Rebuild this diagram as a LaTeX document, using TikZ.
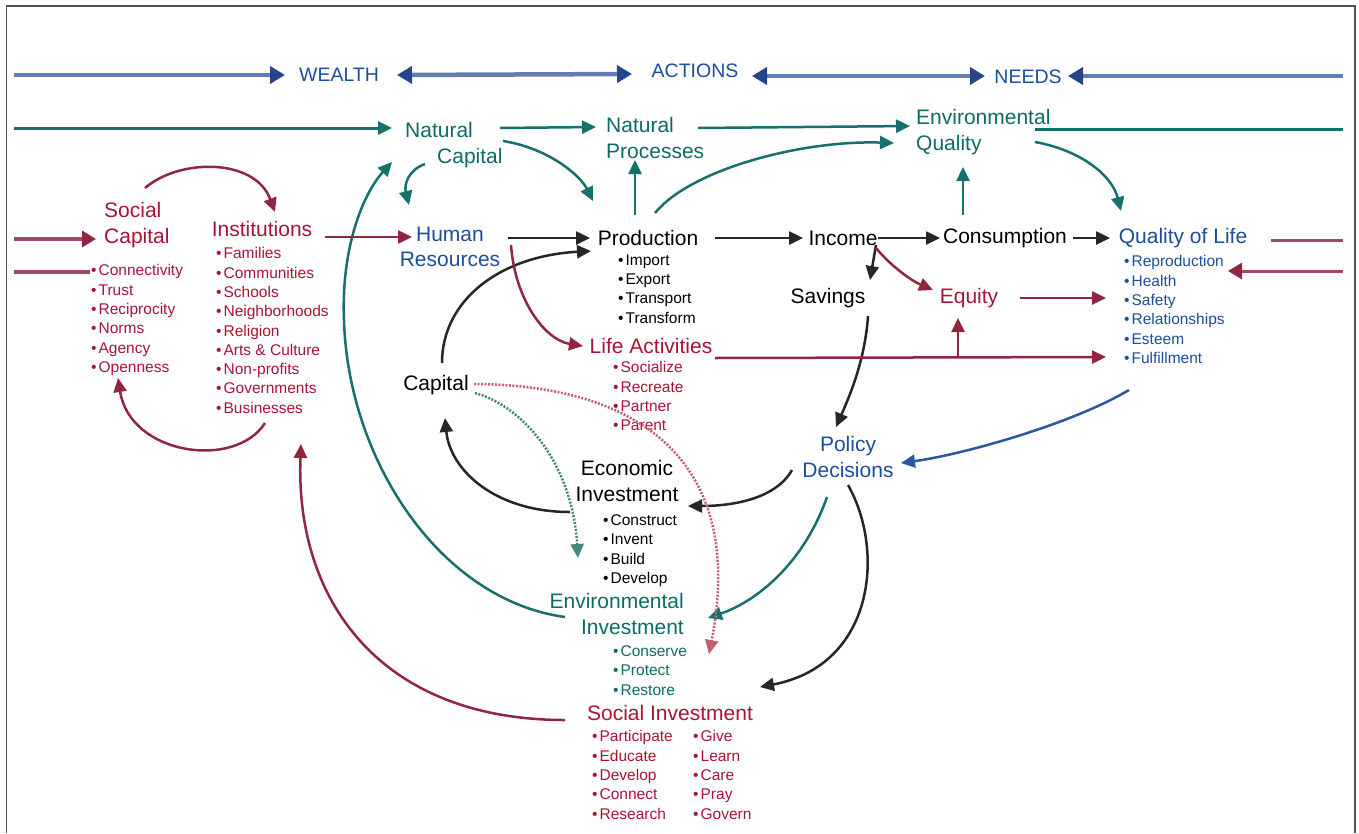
\documentclass[tikz,border=0pt]{standalone}
\usepackage{fontspec}
\setmainfont{Liberation Sans}
\usetikzlibrary{arrows.meta,calc}
\definecolor{tblue}{RGB}{28,78,158}
\definecolor{tteal}{RGB}{12,108,102}
\definecolor{tred}{RGB}{170,20,52}
\definecolor{ablk}{RGB}{38,38,38}
\definecolor{ateal}{RGB}{22,112,108}
\definecolor{ared}{RGB}{145,38,64}
\definecolor{ablue}{RGB}{45,85,165}
\definecolor{topL}{RGB}{100,125,178}
\definecolor{topH}{RGB}{38,68,140}
\definecolor{redL}{RGB}{160,75,98}
\definecolor{dteal}{RGB}{70,132,130}
\definecolor{dred}{RGB}{195,95,115}
\definecolor{framec}{RGB}{85,85,85}
\newcommand{\bul}{\textbullet\kern2pt}
\begin{document}
\begin{tikzpicture}[x=1pt,y=-1pt,
  lbl/.style={inner sep=0pt,font=\fontsize{21}{25.5}\selectfont},
  toplbl/.style={inner sep=0pt,font=\fontsize{19.5}{23}\selectfont,text=tblue},
  blist/.style={inner sep=0pt,anchor=north west,align=left,font=\fontsize{15.5}{19.3}\selectfont},
  conn/.style={line width=2.5pt,-{Triangle[length=14pt,width=13pt]}},
  kcon/.style={conn,draw=ablk},
  tcon/.style={conn,draw=ateal},
  rcon/.style={conn,draw=ared},
  bcon/.style={conn,draw=ablue},
  topa/.style={line width=4.5pt,draw=topL,-{Triangle[length=15pt,width=17pt,color=topH]}},
  topb/.style={line width=4.5pt,draw=topL,{Triangle[length=15pt,width=17pt,color=topH]}-{Triangle[length=15pt,width=17pt,color=topH]}},
  reda/.style={line width=4.5pt,draw=redL,-{Triangle[length=14pt,width=16pt,color=ared]}},
  dotteal/.style={conn,draw=dteal,dash pattern=on 2pt off 1.5pt},
  dotred/.style={conn,draw=dred,dash pattern=on 2pt off 1.5pt}
]
\useasboundingbox (0,0) rectangle (1359,833);
\fill[white] (0,0) rectangle (1359,833);
\draw[framec,line width=1.5pt] (6.5,833) -- (6.5,6) -- (1355,6) -- (1355,833);

% free ends
\coordinate (wl) at (14,75);
\coordinate (wr) at (1343,76);
\coordinate (tl) at (14,128);
\coordinate (er) at (1343,129);
\coordinate (sl1) at (14,239);
\coordinate (sl2) at (14,272);
\coordinate (qr1) at (1343,240);
\coordinate (qr2) at (1343,271);

% top labels
\node[toplbl] (wealth) at (339,75) {WEALTH};
\node[toplbl] (actions) at (695,71) {ACTIONS};
\node[toplbl] (needs) at (1028,77) {NEEDS};

% main labels
\node[lbl,text=tteal,align=left,anchor=west] (natcap) at (405,145) {Natural\\\hspace*{32pt}Capital};
\node[lbl,text=tteal,align=left,anchor=west] (natproc) at (606,138) {Natural\\Processes};
\node[lbl,text=tteal,align=left,anchor=west] (envq) at (916,132) {Environmental\\Quality};
\node[lbl,text=tred,align=left,anchor=west] (soccap) at (104,225) {Social\\Capital};
\node[lbl,text=tred] (inst) at (262,229) {Institutions};
\node[lbl,text=tblue,align=center] (human) at (450,247) {Human\\Resources};
\node[lbl] (prod) at (648,238) {Production};
\node[lbl] (income) at (843,238) {Income};
\node[lbl] (cons) at (1005,238) {Consumption};
\node[lbl,text=tblue] (qol) at (1183,238) {Quality of Life};
\node[lbl] (savings) at (828,298) {Savings};
\node[lbl,text=tred] (equity) at (969,298) {Equity};
\node[lbl,text=tred] (lifeact) at (651,346) {Life Activities};
\node[lbl] (capital) at (436,385) {Capital};
\node[lbl,text=tblue,align=center] (policy) at (848,457) {Policy\\Decisions};
\node[lbl,align=center] (econ) at (627,481) {Economic\\Investment};
\node[lbl,text=tteal,align=right,anchor=east] (envinv) at (684,614) {Environmental\\Investment};
\node[lbl,text=tred] (socinv) at (670,713) {Social Investment};

% bullet lists
\node[blist,text=tred] (scL) at (91,264.4) {\bul Connectivity\\\bul Trust\\\bul Reciprocity\\\bul Norms\\\bul Agency\\\bul Openness};
\node[blist,text=tred] (instL) at (216,247.4) {\bul Families\\\bul Communities\\\bul Schools\\\bul Neighborhoods\\\bul Religion\\\bul Arts \& Culture\\\bul Non-profits\\\bul Governments\\\bul Businesses};
\node[blist] (prodL) at (618,254.4) {\bul Import\\\bul Export\\\bul Transport\\\bul Transform};
\node[blist,text=tblue] (qolL) at (1124,255.4) {\bul Reproduction\\\bul Health\\\bul Safety\\\bul Relationships\\\bul Esteem\\\bul Fulfillment};
\node[blist,text=tred] (lifeL) at (613,361.4) {\bul Socialize\\\bul Recreate\\\bul Partner\\\bul Parent};
\node[blist] (econL) at (603,514.4) {\bul Construct\\\bul Invent\\\bul Build\\\bul Develop};
\node[blist,text=tteal] (envL) at (613,645.4) {\bul Conserve\\\bul Protect\\\bul Restore};
\node[blist,text=tred] (siL1) at (592,730.4) {\bul Participate\\\bul Educate\\\bul Develop\\\bul Connect\\\bul Research};
\node[blist,text=tred] (siL2) at (693,730.4) {\bul Give\\\bul Learn\\\bul Care\\\bul Pray\\\bul Govern};

% top band arrows
\draw[topa] (wl) -- ($(wealth)+(-54,0)$);
\draw[topb] ($(wealth)+(58,0)$) -- ($(actions)+(-63,3)$);
\draw[topb] ($(actions)+(57,5)$) -- ($(needs)+(-43,-1)$);
\draw[topa] (wr) -- ($(needs)+(40,-1)$);

% teal row
\draw[tcon,line width=3pt] (tl) -- ($(natcap.west)+(-13,-17)$);
\draw[tcon] ($(natcap.west)+(95,-17)$) -- ($(natproc.west)+(-10,-11)$);
\draw[tcon] ($(natproc.west)+(92,-10)$) -- ($(envq.west)+(-6,-6)$);
\draw[ateal,line width=3pt] ($(envq.west)+(119,-3)$) -- (er);
\draw[tcon] ($(natcap.west)+(98,-4)$) .. controls (548,148) and (580,175) .. ($(prod)+(-55,-37)$);
\draw[tcon] ($(natcap.west)+(20,19)$) .. controls (408,170) and (404,185) .. ($(human)+(-41,-42)$);
\draw[tcon] ($(prod)+(-13,-23)$) -- ($(natproc.west)+(29,22)$);
\draw[tcon] ($(prod)+(7,-25)$) .. controls (690,170) and (800,140) .. ($(envq.west)+(-22,11)$);
\draw[tcon] ($(cons)+(-42,-23)$) -- ($(envq.west)+(47,35)$);
\draw[tcon] ($(envq.west)+(119,10)$) .. controls (1080,150) and (1112,175) .. ($(qol)+(-62,-27)$);
\draw[tcon] ($(envinv.east)+(-119,3)$) .. controls (440,600) and (348,460) .. (344,320) .. controls (341,250) and (362,195) .. ($(natcap.west)+(-13,17)$);
\draw[tcon] ($(policy)+(-21,40)$) .. controls (805,560) and (760,600) .. ($(envinv.east)+(24,4)$);

% social side
\draw[reda] (sl1) -- ($(soccap.west)+(-8,14)$);
\draw[redL,line width=4.5pt] (sl2) -- ($(scL.north west)+(-1,7.6)$);
\draw[rcon] ($(soccap.west)+(41,-37)$) .. controls (180,158) and (255,158) .. ($(inst)+(13,-17)$);
\draw[rcon] ($(instL.north west)+(49,175.6)$) .. controls (235,470) and (130,455) .. ($(scL.north west)+(27,113.6)$);
\draw[rcon] ($(inst)+(63,8)$) -- ($(human)+(-38,-10)$);
\draw[rcon] ($(socinv)+(-105,7)$) .. controls (380,720) and (295,600) .. ($(instL.north west)+(85,196.6)$);

% black chain
\draw[kcon] ($(human)+(58,-9)$) -- ($(prod)+(-58,0)$);
\draw[kcon] ($(prod)+(67,0)$) -- ($(income)+(-40,0)$);
\draw[kcon] ($(income)+(35,0)$) -- ($(cons)+(-65,0)$);
\draw[kcon] ($(cons)+(68,0)$) -- ($(qol)+(-73,0)$);
\draw[kcon] ($(income)+(33,7)$) -- ($(savings)+(42,-18)$);
\draw[kcon] ($(savings)+(40,18)$) .. controls (865,360) and (850,395) .. ($(policy)+(-12,-30)$);
\draw[kcon] ($(capital)+(6,-22)$) .. controls (442,300) and (500,256) .. ($(prod)+(-57,13)$);
\draw[kcon] ($(econ)+(-57,31)$) .. controls (495,512) and (450,470) .. ($(capital)+(9,33)$);
\draw[kcon] ($(policy)+(-56,13)$) .. controls (775,500) and (730,506) .. ($(econ)+(61,25)$);
\draw[kcon] ($(policy)+(0,28)$) .. controls (885,550) and (875,665) .. ($(socinv)+(90,-26)$);

% red right side
\draw[redL,line width=3pt] ($(qol)+(88,2)$) -- (qr1);
\draw[reda,line width=3pt] (qr2) -- ($(qolL.north west)+(104,15.6)$);
\draw[rcon] ($(income)+(33,10)$) .. controls (890,265) and (910,280) .. ($(equity)+(-36,-8)$);
\draw[rcon] ($(equity)+(51,0)$) -- ($(qolL.north west)+(-18,42.6)$);
\draw[rcon] ($(lifeact)+(64,12)$) -- ($(qolL.north west)+(-18,101.6)$);
\draw[rcon] ($(lifeact)+(307,11)$) -- ($(equity)+(-11,20)$);
\draw[rcon] ($(human)+(61,-2)$) .. controls (515,300) and (545,340) .. ($(lifeact)+(-68,0)$);

% blue
\draw[bcon] ($(qolL.north west)+(5,134.6)$) .. controls (1070,425) and (960,455) .. ($(policy)+(53,6)$);

% dotted
\draw[dotteal] ($(capital)+(39,8)$) .. controls (520,405) and (572,460) .. ($(envinv.east)+(-106,-56)$);
\draw[dotred] ($(capital)+(38,-1)$) .. controls (650,385) and (745,470) .. ($(envinv.east)+(25,40)$);
\end{tikzpicture}
\end{document}
